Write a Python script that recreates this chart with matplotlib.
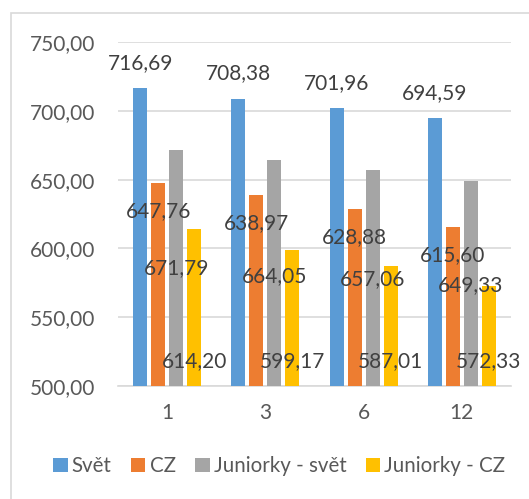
import numpy as np
import matplotlib
matplotlib.use("Agg")
from matplotlib import pyplot as plt
from matplotlib.patches import Rectangle

kategorie = ["1", "3", "6", "12"]
svet = [716.69, 708.38, 701.96, 694.59]
cz = [647.76, 638.97, 628.88, 615.60]
jun_svet = [671.79, 664.05, 657.06, 649.33]
jun_cz = [614.20, 599.17, 587.01, 572.33]

serie = [("Svět", svet, "#5B9BD5"),
         ("CZ", cz, "#ED7D31"),
         ("Juniorky - svět", jun_svet, "#A5A5A5"),
         ("Juniorky - CZ", jun_cz, "#FFC000")]

# where the labels sit in the original (they do not follow the bars)
label_y = [[734.7, 727.5, 720.2, 713.0],
           [627.2, 618.5, 608.3, 595.2],
           [585.8, 580.0, 577.8, 573.4],
           [518.2, 518.2, 518.2, 518.2]]

plt.rcParams["font.family"] = ["Lato", "DejaVu Sans"]

fig = plt.figure(figsize=(5.29, 4.99), dpi=100)
ax = fig.add_axes([118/529, 1-386/499, (511-118)/529, (386-42)/499])

fig.patches.append(Rectangle((11/529, -0.05), 1.2, 1-13/499+0.05, transform=fig.transFigure,
                             fill=False, edgecolor="#D9D9D9", linewidth=1.2))

x = np.arange(len(kategorie))
step = 0.183
w = 0.1425
for i, (nazev, hodnoty, barva) in enumerate(serie):
    pos = x + (i - 1.5) * step
    ax.bar(pos, np.array(hodnoty) - 500, bottom=500, width=w, color=barva, label=nazev, zorder=3)
    for px, v, ly in zip(pos, hodnoty, label_y[i]):
        ax.text(px, ly, f"{v:.2f}".replace(".", ","), ha="center", va="center",
                fontsize=15, color="#404040", zorder=4)

ax.set_xlim(-0.5, 3.5)
ax.set_ylim(500, 750)
ax.set_yticks(np.arange(500, 751, 50))
ax.set_yticklabels([f"{t:.2f}".replace(".", ",") for t in np.arange(500, 751, 50)])
ax.set_xticks(x)
ax.set_xticklabels(kategorie)
ax.tick_params(length=0, labelsize=15, colors="#595959")
ax.tick_params(axis="y", pad=16.5)
ax.tick_params(axis="x", pad=12)
ax.grid(axis="y", color="#D9D9D9", linewidth=1.2, zorder=0)
for s in ["top", "right", "left"]:
    ax.spines[s].set_visible(False)
ax.spines["bottom"].set_color("#D9D9D9")
ax.spines["bottom"].set_linewidth(1.2)

leg = fig.legend(loc="center", bbox_to_anchor=(0.528, 1-466/499), ncol=4, frameon=False,
                 fontsize=14.8, handlelength=0.7, handleheight=0.7, handletextpad=0.2,
                 columnspacing=0.95, labelcolor="#595959")

fig.savefig("out.png", dpi=100)
